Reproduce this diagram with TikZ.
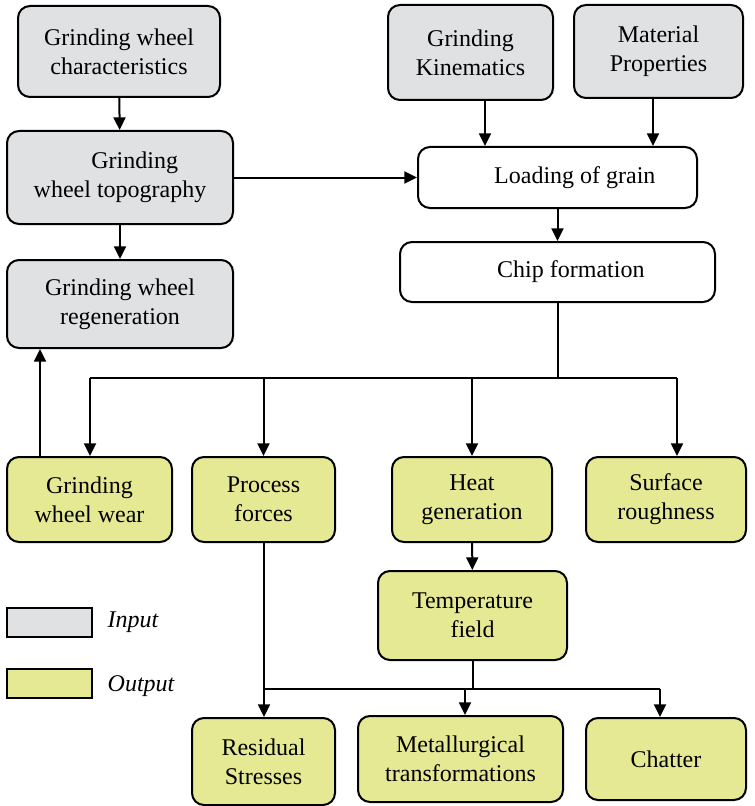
\documentclass[tikz,border=0pt]{standalone}
\usepackage{fontspec}
\setmainfont{Liberation Serif}
\usepackage{tikz}
\usetikzlibrary{positioning, arrows.meta}
\definecolor{inputGray}{RGB}{224,225,227}
\definecolor{outputYellow}{RGB}{230,233,147}

\begin{document}
\begin{tikzpicture}[
        x=0.75pt, y=-0.75pt,
        font=\fontsize{18}{21.75}\selectfont,
        baseBox/.style={draw, rectangle, rounded corners=9pt, align=center, line width=1.5pt, inner sep=2pt},
        inNode/.style={baseBox, fill=inputGray},
        midNode/.style={baseBox, fill=white},
        outNode/.style={baseBox, fill=outputYellow},
        keyNode/.style={draw, rectangle, line width=1.5pt, minimum width=63.75pt, minimum height=21.75pt},
        line/.style={line width=1.5pt},
        arrow/.style={-{Triangle[length=9.5pt, width=9pt]}, line width=1.5pt}
    ]
        \useasboundingbox (0,0) rectangle (755,806);

        % Nodes
        \node[inNode, minimum width=151.5pt, minimum height=68.25pt] (wheelChar) at (119,51.5) {Grinding wheel\\characteristics};
        \node[inNode, minimum width=169.5pt, minimum height=69.75pt] (wheelTopo) at (120,177.5) {\hspace*{22pt}Grinding\\wheel topography};
        \node[inNode, minimum width=169.5pt, minimum height=66pt] (wheelRegen) at (120,304) {Grinding wheel\\regeneration};
        \node[inNode, minimum width=123.75pt, minimum height=71.25pt] (kinematics) at (470.5,52.5) {Grinding\\Kinematics};
        \node[inNode, minimum width=126.75pt, minimum height=69.75pt] (material) at (658.5,51.5) {Material\\Properties};

        \node[midNode, minimum width=209.25pt, minimum height=45.75pt] (loading) at (557.5,177.5) {\hspace*{26pt}Loading of grain};
        \node[midNode, minimum width=236.25pt, minimum height=45pt] (chip) at (557.5,272) {\hspace*{20pt}Chip formation};

        \node[outNode, minimum width=123.75pt, minimum height=63.75pt] (wear) at (89.5,499.5) {Grinding\\wheel wear};
        \node[outNode, minimum width=107.25pt, minimum height=63.75pt] (forces) at (263.5,499.5) {Process\\forces};
        \node[outNode, minimum width=120pt, minimum height=63.75pt] (heat) at (472,499.5) {Heat\\generation};
        \node[outNode, minimum width=120pt, minimum height=63.75pt] (rough) at (666,499.5) {Surface\\roughness};
        \node[outNode, minimum width=141.75pt, minimum height=66.75pt] (temp) at (472.5,615.5) {Temperature\\field};

        \node[outNode, minimum width=107.25pt, minimum height=65.25pt] (residual) at (263.5,761.5) {Residual\\Stresses};
        \node[outNode, minimum width=153.75pt, minimum height=64.5pt] (metal) at (460.5,759) {Metallurgical\\transformations};
        \node[outNode, minimum width=120pt, minimum height=61.5pt] (chatter) at (666,759) {Chatter};

        % Legend
        \node[keyNode, fill=inputGray] (keyIn) at (49.5,622.5) {};
        \node[keyNode, fill=outputYellow] (keyOut) at (49.5,683.5) {};
        \node[anchor=west, font=\fontsize{18}{21.75}\selectfont\itshape] (keyInText) at (103,622) {Input};
        \node[anchor=west, font=\fontsize{18}{21.75}\selectfont\itshape] (keyOutText) at (103,686) {Output};

        % Branch points
        \coordinate (busL) at (90,378);
        \coordinate (busR) at (677,378);
        \coordinate (lowL) at (264,689);
        \coordinate (lowR) at (660,689);

        % Arrows
        \draw[arrow] (wheelChar) -- (wheelTopo);
        \draw[arrow] (wheelTopo) -- (wheelRegen);
        \draw[arrow] (wheelTopo.east) -- (wheelTopo.east -| loading.west);
        \draw[arrow] ([xshift=10.9pt]kinematics.south) -- ([xshift=10.9pt]kinematics.south |- loading.north);
        \draw[arrow] ([xshift=-4.1pt]material.south) -- ([xshift=-4.1pt]material.south |- loading.north);
        \draw[arrow] (loading) -- (chip);

        \draw[line] (chip.south) -- (chip.south |- busR);
        \draw[line] (busL) -- (busR);
        \draw[arrow] (busL) -- (busL |- wear.north);
        \draw[arrow] (forces.north |- busL) -- (forces.north);
        \draw[arrow] (heat.north |- busL) -- (heat.north);
        \draw[arrow] (busR) -- (busR |- rough.north);
        \draw[arrow] ([xshift=-37.1pt]wear.north) -- ([xshift=-37.1pt]wear.north |- wheelRegen.south);

        \draw[arrow] (heat) -- (temp);
        \draw[line] (forces.south) -- (forces.south |- lowL);
        \draw[line] (temp.south) -- (temp.south |- lowL);
        \draw[line] (lowL) -- (lowR);
        \draw[arrow] (lowL) -- (lowL |- residual.north);
        \draw[arrow] ([xshift=3.4pt]metal.north |- lowL) -- ([xshift=3.4pt]metal.north);
        \draw[arrow] (lowR) -- (lowR |- chatter.north);
    \end{tikzpicture}
\end{document}
